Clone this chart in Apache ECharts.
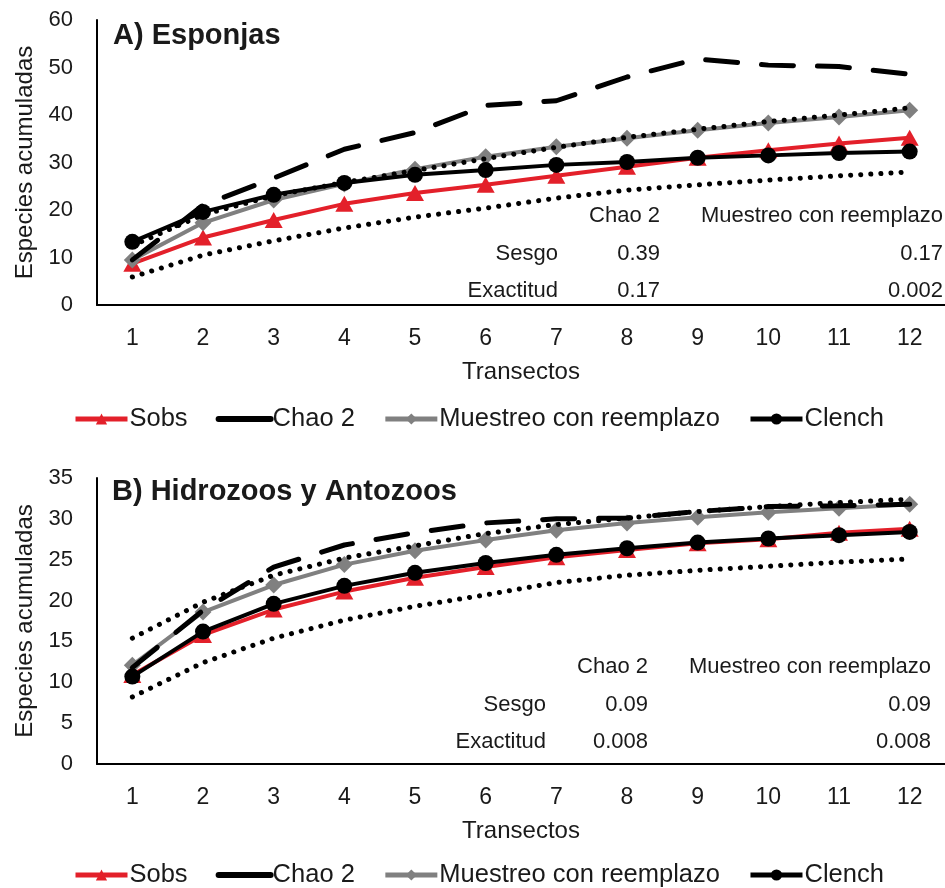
<!DOCTYPE html>
<html>
<head>
<meta charset="utf-8">
<script src="https://cdn.jsdelivr.net/npm/echarts@6/dist/echarts.min.js"></script>
<style>
  html, body { margin: 0; padding: 0; background: #fff; }
  #chart { width: 945px; height: 888px; }
</style>
</head>
<body>
<div id="chart"></div>
<script>
// transectos (eje x)
var transectos = ['1', '2', '3', '4', '5', '6', '7', '8', '9', '10', '11', '12'];

// A) Esponjas
var sobsA      = [8.7, 14.2, 17.9, 21.3, 23.6, 25.3, 27.2, 29.1, 31.0, 32.6, 34.0, 35.2];
var chaoA      = [9.5, 21.0, 26.7, 32.8, 36.3, 42.0, 43.0, 48.0, 51.8, 50.5, 50.2, 48.6];
var muestreoA  = [9.5, 17.3, 22.1, 25.5, 28.6, 31.2, 33.3, 35.1, 36.8, 38.3, 39.6, 41.0];
var clenchA    = [13.3, 19.6, 23.2, 25.7, 27.4, 28.4, 29.5, 30.1, 31.0, 31.5, 32.0, 32.3];
var icSupA     = [12.5, 19.0, 23.0, 25.8, 28.3, 30.8, 33.2, 35.3, 37.0, 38.6, 40.0, 41.5];
var icInfA     = [5.9, 10.5, 13.5, 16.2, 18.5, 20.4, 22.5, 24.2, 25.3, 26.3, 27.2, 28.0];

// B) Hidrozoos y Antozoos
var sobsB      = [10.9, 15.8, 18.9, 21.1, 22.8, 24.1, 25.3, 26.2, 27.0, 27.5, 28.3, 28.8];
var chaoB      = [11.8, 18.8, 24.1, 26.8, 28.3, 29.5, 30.0, 30.1, 30.9, 31.5, 31.6, 31.8];
var muestreoB  = [12.1, 18.6, 21.9, 24.4, 26.1, 27.4, 28.6, 29.5, 30.2, 30.8, 31.3, 31.8];
var clenchB    = [10.7, 16.2, 19.6, 21.8, 23.4, 24.6, 25.6, 26.4, 27.1, 27.6, 28.0, 28.4];
var icSupB     = [15.4, 19.8, 23.1, 25.2, 26.7, 28.2, 29.3, 30.1, 30.9, 31.5, 32.0, 32.4];
var icInfB     = [8.2, 12.4, 15.4, 17.6, 19.3, 20.7, 22.2, 23.1, 23.7, 24.2, 24.7, 25.1];

// tabla de sesgo / exactitud
var tablaCols = ['Chao 2', 'Muestreo con reemplazo'];
var tablaFilas = ['Sesgo', 'Exactitud'];
var tablaA = [['0.39', '0.17'], ['0.17', '0.002']];
var tablaB = [['0.09', '0.09'], ['0.008', '0.008']];

var FONT = "'Liberation Sans', Arial, sans-serif";
var TXT = '#1a1a1a';
var ROJO = '#e3202a';
var GRIS = '#808080';
var NADA = 'rgba(0,0,0,0)';

var myChart = echarts.init(document.getElementById('chart'));

function xAxisDe(idx) {
  return {
    type: 'category',
    gridIndex: idx,
    data: transectos,
    boundaryGap: true,
    name: 'Transectos',
    nameLocation: 'middle',
    nameGap: 55,
    nameTextStyle: { fontFamily: FONT, fontSize: 24, color: TXT },
    axisLine: { lineStyle: { color: '#000', width: 2 } },
    axisTick: { show: false },
    axisLabel: { fontFamily: FONT, fontSize: 23, color: TXT, margin: 22 },
    splitLine: { show: false }
  };
}

function yAxisDe(idx, max, interval) {
  return {
    type: 'value',
    gridIndex: idx,
    min: 0,
    max: max,
    interval: interval,
    name: 'Especies acumuladas',
    nameLocation: 'middle',
    nameGap: 60,
    nameTextStyle: { fontFamily: FONT, fontSize: 24, color: TXT },
    axisLine: { show: true, lineStyle: { color: '#000', width: 2 } },
    axisTick: { show: false },
    axisLabel: { fontFamily: FONT, fontSize: 22, color: TXT, margin: 24 },
    splitLine: { show: false }
  };
}

function seriesDe(idx, sobs, chao, muestreo, clench, icSup, icInf) {
  var base = { type: 'line', xAxisIndex: idx, yAxisIndex: idx, animation: false };
  return [
    Object.assign({}, base, {
      name: 'Sobs', data: sobs, z: 2,
      symbol: 'triangle', symbolSize: [18, 16],
      itemStyle: { color: ROJO },
      lineStyle: { color: ROJO, width: 4 }
    }),
    Object.assign({}, base, {
      name: 'Muestreo con reemplazo', data: muestreo, z: 3,
      symbol: 'diamond', symbolSize: 17,
      itemStyle: { color: GRIS },
      lineStyle: { color: GRIS, width: 4 }
    }),
    Object.assign({}, base, {
      name: 'Clench', data: clench, z: 4,
      symbol: 'circle', symbolSize: 16,
      itemStyle: { color: '#000' },
      lineStyle: { color: '#000', width: 4 }
    }),
    Object.assign({}, base, {
      name: 'Chao 2', data: chao, z: 5,
      symbol: 'none',
      itemStyle: { color: '#000' },
      lineStyle: { color: '#000', width: 5, type: [32, 24], cap: 'round' }
    }),
    Object.assign({}, base, {
      name: 'IC sup ' + idx, data: icSup, z: 6,
      symbol: 'none',
      lineStyle: { color: '#000', width: 5, type: [0.1, 10], cap: 'round' }
    }),
    Object.assign({}, base, {
      name: 'IC inf ' + idx, data: icInf, z: 6,
      symbol: 'none',
      lineStyle: { color: '#000', width: 5, type: [0.1, 10], cap: 'round' }
    })
  ];
}

function legendDe(top) {
  return {
    left: 68,
    top: top,
    itemWidth: 52,
    itemHeight: 14,
    itemGap: 28,
    selectedMode: false,
    lineStyle: { width: 5 },
    textStyle: { fontFamily: FONT, fontSize: 25.5, color: TXT, padding: [0, 0, 0, -3] },
    data: [
      { name: 'Sobs' },
      { name: 'Chao 2', lineStyle: { type: 'solid', width: 6 },
        itemStyle: { color: NADA, borderColor: NADA, borderWidth: 0 } },
      { name: 'Muestreo con reemplazo' },
      { name: 'Clench' }
    ]
  };
}

function textoDe(t, x, y, align, size, bold) {
  return {
    type: 'text', x: x, y: y, z: 20,
    style: {
      text: t, fill: TXT,
      font: (bold ? 'bold ' : '') + size + 'px ' + FONT,
      align: align, textAlign: align,
      verticalAlign: 'middle', textVerticalAlign: 'middle'
    }
  };
}

function tablaDe(vals, yCab, dy, xFila, xCol1, xCol2) {
  var out = [];
  out.push(textoDe(tablaCols[0], xCol1, yCab, 'right', 22));
  out.push(textoDe(tablaCols[1], xCol2, yCab, 'right', 22));
  for (var i = 0; i < tablaFilas.length; i++) {
    var y = yCab + dy * (i + 1);
    out.push(textoDe(tablaFilas[i], xFila, y, 'right', 22));
    out.push(textoDe(vals[i][0], xCol1, y, 'right', 22));
    out.push(textoDe(vals[i][1], xCol2, y, 'right', 22));
  }
  return out;
}

var graficos = []
  .concat([textoDe('A) Esponjas', 113, 36, 'left', 29, true)])
  .concat([textoDe('B) Hidrozoos y Antozoos', 112, 492, 'left', 29, true)])
  .concat(tablaDe(tablaA, 216, 37.5, 558, 660, 943))
  .concat(tablaDe(tablaB, 667, 37.5, 546, 648, 931));

myChart.setOption({
  backgroundColor: '#fff',
  animation: false,
  grid: [
    { left: 97, top: 20, width: 848, height: 285, containLabel: false },
    { left: 97, top: 478, width: 848, height: 286, containLabel: false }
  ],
  xAxis: [xAxisDe(0), xAxisDe(1)],
  yAxis: [yAxisDe(0, 60, 10), yAxisDe(1, 35, 5)],
  legend: [legendDe(401), legendDe(857)],
  graphic: graficos,
  series: []
    .concat(seriesDe(0, sobsA, chaoA, muestreoA, clenchA, icSupA, icInfA))
    .concat(seriesDe(1, sobsB, chaoB, muestreoB, clenchB, icSupB, icInfB))
});
</script>
</body>
</html>
